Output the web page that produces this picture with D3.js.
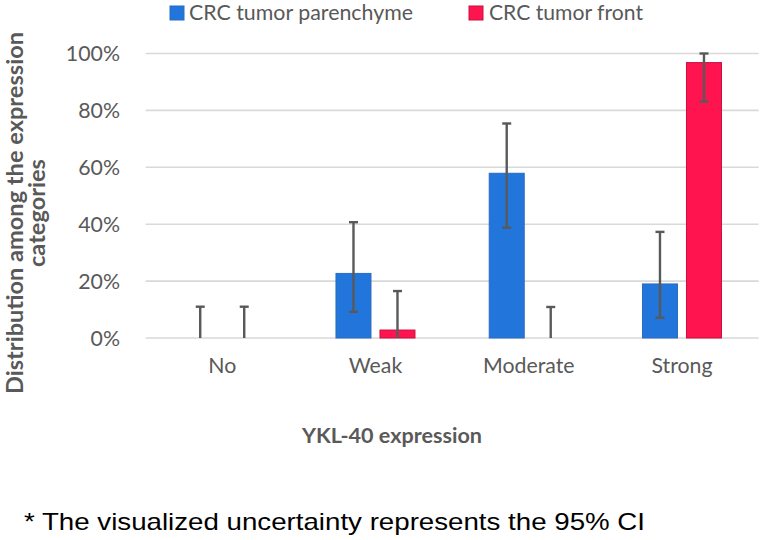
<!DOCTYPE html>
<html><head><meta charset="utf-8">
<script src="https://cdn.jsdelivr.net/npm/d3@7"></script>
<style>body{margin:0;background:#fff}svg{display:block}</style>
</head><body><svg id="c" width="762" height="540"></svg>
<script>
const categories = ["No", "Weak", "Moderate", "Strong"];
const seriesNames = ["CRC tumor parenchyme", "CRC tumor front"];
const parenchyme = [0, 22.7, 57.9, 19.0];
const parenchymeLow = [0, 9.2, 38.8, 7.1];
const parenchymeHigh = [11.0, 40.7, 75.4, 37.3];
const front = [0, 2.8, 0, 96.8];
const frontLow = [0, 0, 0, 83.1];
const frontHigh = [11.0, 16.5, 10.9, 100];
const yTicks = [0, 20, 40, 60, 80, 100];
const colors = ["#2275DB", "#FF1450"];
const strokes = ["#2A6CC0", "#C8103F"];

const svg = d3.select("#c");
const font = "Lato, 'Open Sans', sans-serif";
const x = d3.scaleBand().domain(categories).range([145.6, 758.6]).paddingInner(0).paddingOuter(0);
const y = d3.scaleLinear().domain([0, 100]).range([338, 53.5]);

// gridlines
svg.append("g").selectAll("line").data(yTicks).join("line")
  .attr("x1", 145.6).attr("x2", 758.6)
  .attr("y1", d => y(d)).attr("y2", d => y(d))
  .attr("stroke", "#D9D9D9").attr("stroke-width", 1.6);

// y axis
const yAxis = d3.axisLeft(y).tickValues(yTicks).tickFormat(d => d + "%").tickSize(0).tickPadding(0);
const ga = svg.append("g").attr("transform", "translate(120,0)").call(yAxis);
ga.select(".domain").remove();
ga.selectAll("text").attr("font-family", font).attr("font-size", 21.3).attr("fill", "#595959").attr("dy", "0.35em");

// x axis
const xAxis = d3.axisBottom(x).tickSize(0).tickPadding(0);
const gx = svg.append("g").attr("transform", "translate(0,358)").call(xAxis);
gx.select(".domain").remove();
gx.selectAll("text").attr("font-family", font).attr("font-size", 21.3).attr("fill", "#595959").attr("dy", "0.7em");

const series = [
  {vals: parenchyme, lo: parenchymeLow, hi: parenchymeHigh},
  {vals: front, lo: frontLow, hi: frontHigh}
];
const bw = 35, gap = 9, groupW = 2*bw + gap;
series.forEach((s, si) => {
  const g = svg.append("g");
  const bx = (i) => x(categories[i]) + (x.bandwidth() - groupW)/2 + si*(bw+gap);
  g.selectAll("rect").data(s.vals).join("rect")
    .attr("x", (d,i) => bx(i)).attr("width", bw)
    .attr("y", d => y(d)).attr("height", d => y(0) - y(d))
    .attr("fill", colors[si]).attr("stroke", strokes[si]).attr("stroke-width", d => d > 0 ? 1 : 0);
  const eg = svg.append("g").attr("stroke", "#595959").attr("stroke-width", 2.4);
  s.vals.forEach((d, i) => {
    const cx = bx(i) + bw/2;
    eg.append("line").attr("x1", cx).attr("x2", cx).attr("y1", y(s.lo[i])).attr("y2", y(s.hi[i]));
    eg.append("line").attr("x1", cx-4.5).attr("x2", cx+4.5).attr("y1", y(s.hi[i])).attr("y2", y(s.hi[i]));
    if (s.lo[i] > 0) eg.append("line").attr("x1", cx-4.5).attr("x2", cx+4.5).attr("y1", y(s.lo[i])).attr("y2", y(s.lo[i]));
  });
});

// legend
const leg = [{x:170, tx:189, w:224}, {x:469, tx:489, w:154}];
seriesNames.forEach((n, i) => {
  svg.append("rect").attr("x", leg[i].x).attr("y", 6).attr("width", 14).attr("height", 14)
    .attr("fill", colors[i]).attr("stroke", strokes[i]).attr("stroke-width", 1);
  svg.append("text").attr("x", leg[i].tx).attr("y", 13).attr("dy", "0.35em")
    .attr("font-family", font).attr("font-size", 21.3).attr("fill", "#595959")
    .attr("textLength", leg[i].w).attr("lengthAdjust", "spacingAndGlyphs").text(n);
});

// y title
const yt = svg.append("text").attr("transform", "translate(0,213) rotate(-90)")
  .attr("text-anchor", "middle").attr("font-family", font).attr("font-size", 22)
  .attr("font-weight", "bold").attr("fill", "#595959");
yt.append("tspan").attr("x", 0).attr("y", 23).attr("textLength", 362).attr("lengthAdjust", "spacingAndGlyphs").text("Distribution among the expression");
yt.append("tspan").attr("x", 0).attr("y", 45).attr("textLength", 108).attr("lengthAdjust", "spacingAndGlyphs").text("categories");

// x title
svg.append("text").attr("x", 392).attr("y", 435).attr("dy", "0.35em").attr("text-anchor", "middle")
  .attr("font-family", font).attr("font-size", 21.5).attr("font-weight", "bold").attr("fill", "#595959")
  .attr("textLength", 180).attr("lengthAdjust", "spacingAndGlyphs")
  .text("YKL-40 expression");

// footnote
svg.append("text").attr("x", 24).attr("y", 522).attr("dy", "0.35em")
  .attr("font-family", "'Liberation Sans', Arial, sans-serif").attr("font-size", 24).attr("fill", "#000")
  .attr("textLength", 621).attr("lengthAdjust", "spacingAndGlyphs")
  .text("* The visualized uncertainty represents the 95% CI");
</script></body></html>
